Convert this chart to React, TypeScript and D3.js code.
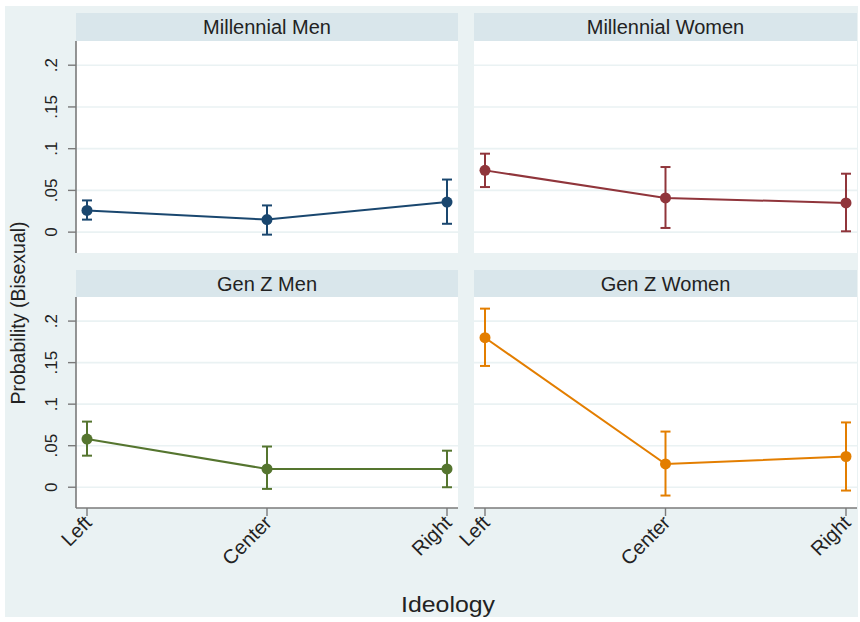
import React from "react";
import * as d3 from "d3";

const categories = ["Left", "Center", "Right"];
const panelTitles = ["Millennial Men", "Millennial Women", "Gen Z Men", "Gen Z Women"];
const panelColors = ["#1a476f", "#90353b", "#55752f", "#e37e00"];
const yTicks = [0, 0.05, 0.1, 0.15, 0.2];
const yTickLabels = ["0", ".05", ".1", ".15", ".2"];

const millennialMenEst = [0.026, 0.015, 0.036];
const millennialMenLo = [0.015, -0.003, 0.010];
const millennialMenHi = [0.038, 0.032, 0.063];

const millennialWomenEst = [0.074, 0.041, 0.035];
const millennialWomenLo = [0.054, 0.005, 0.001];
const millennialWomenHi = [0.094, 0.078, 0.070];

const genZMenEst = [0.058, 0.022, 0.022];
const genZMenLo = [0.038, -0.002, 0.000];
const genZMenHi = [0.079, 0.049, 0.044];

const genZWomenEst = [0.180, 0.028, 0.037];
const genZWomenLo = [0.146, -0.010, -0.004];
const genZWomenHi = [0.215, 0.067, 0.078];

const seriesEst = [millennialMenEst, millennialWomenEst, genZMenEst, genZWomenEst];
const seriesLo = [millennialMenLo, millennialWomenLo, genZMenLo, genZWomenLo];
const seriesHi = [millennialMenHi, millennialWomenHi, genZMenHi, genZWomenHi];

const W = 860;
const H = 622;
const cols = [
  { x0: 76, x1: 458 },
  { x0: 474, x1: 857 },
];
const rows = [
  { h0: 13, y0: 41, y1: 253 },
  { h0: 270, y0: 297, y1: 508 },
];
const FONT = "'Liberation Sans', Arial, Helvetica, sans-serif";

export default function App() {
  const panels = panelTitles.map((title, i) => {
    const col = cols[i % 2];
    const row = rows[Math.floor(i / 2)];
    const x = d3.scalePoint<string>().domain(categories).range([col.x0 + 11, col.x1 - 11]);
    const y = d3.scaleLinear().domain([-0.025, 0.229]).range([row.y1, row.y0]);
    const est = seriesEst[i];
    const lo = seriesLo[i];
    const hi = seriesHi[i];
    const color = panelColors[i];
    const line = d3
      .line<number>()
      .x((_, j) => x(categories[j]) as number)
      .y((v) => y(v));
    const isLeft = i % 2 === 0;
    const isBottom = i >= 2;
    return (
      <g key={title}>
        <rect x={col.x0} y={row.h0} width={col.x1 - col.x0} height={row.y0 - row.h0} fill="#d9e6eb" />
        <text
          x={(col.x0 + col.x1) / 2}
          y={(row.h0 + row.y0) / 2 + 7}
          textAnchor="middle"
          fontSize={20}
          fill="#222"
          fontFamily={FONT}
        >
          {title}
        </text>
        <rect x={col.x0} y={row.y0} width={col.x1 - col.x0} height={row.y1 - row.y0} fill="#ffffff" />
        {yTicks.map((t) => (
          <line key={t} x1={col.x0} x2={col.x1} y1={y(t)} y2={y(t)} stroke="#eaf2f3" strokeWidth={1.6} />
        ))}
        {isLeft && (
          <g>
            <line x1={col.x0} x2={col.x0} y1={row.y0} y2={row.y1} stroke="#7a7a7a" strokeWidth={1.6} />
            {yTicks.map((t, k) => (
              <g key={t}>
                <line x1={col.x0 - 8} x2={col.x0} y1={y(t)} y2={y(t)} stroke="#7a7a7a" strokeWidth={1.4} />
                <text
                  transform={`translate(${col.x0 - 19},${y(t)}) rotate(-90)`}
                  textAnchor="middle"
                  fontSize={17}
                  fill="#222"
                  fontFamily={FONT}
                >
                  {yTickLabels[k]}
                </text>
              </g>
            ))}
          </g>
        )}
        {isBottom && (
          <g>
            <line x1={col.x0} x2={col.x1} y1={row.y1} y2={row.y1} stroke="#7a7a7a" strokeWidth={1.6} />
            {categories.map((c) => (
              <g key={c}>
                <line
                  x1={x(c) as number}
                  x2={x(c) as number}
                  y1={row.y1}
                  y2={row.y1 + 8}
                  stroke="#7a7a7a"
                  strokeWidth={1.4}
                />
                <text
                  transform={`translate(${(x(c) as number) + 6},${row.y1 + 16}) rotate(-45)`}
                  textAnchor="end"
                  fontSize={20}
                  fill="#222"
                  fontFamily={FONT}
                >
                  {c}
                </text>
              </g>
            ))}
          </g>
        )}
        <path d={line(est) || ""} fill="none" stroke={color} strokeWidth={2} />
        {categories.map((c, j) => {
          const cx = x(c) as number;
          return (
            <g key={c} stroke={color} strokeWidth={2}>
              <line x1={cx} x2={cx} y1={y(lo[j])} y2={y(hi[j])} />
              <line x1={cx - 5} x2={cx + 5} y1={y(lo[j])} y2={y(lo[j])} />
              <line x1={cx - 5} x2={cx + 5} y1={y(hi[j])} y2={y(hi[j])} />
              <circle cx={cx} cy={y(est[j])} r={5.5} fill={color} stroke="none" />
            </g>
          );
        })}
      </g>
    );
  });

  return (
    <div style={{ position: "absolute", left: 0, top: 0 }}>
      <svg width={W} height={H} style={{ display: "block" }}>
        <rect x={0} y={0} width={W} height={H} fill="#ffffff" />
        <rect x={5} y={6} width={853} height={611} fill="#eaf2f3" />
        {panels}
        <text
          transform={`translate(25,313) rotate(-90)`}
          textAnchor="middle"
          fontSize={19.5}
          fill="#222"
          fontFamily={FONT}
        >
          Probability (Bisexual)
        </text>
        <text x={448} y={612} textAnchor="middle" fontSize={22} fill="#222" fontFamily={FONT} textLength={94} lengthAdjust="spacingAndGlyphs">
          Ideology
        </text>
      </svg>
    </div>
  );
}
